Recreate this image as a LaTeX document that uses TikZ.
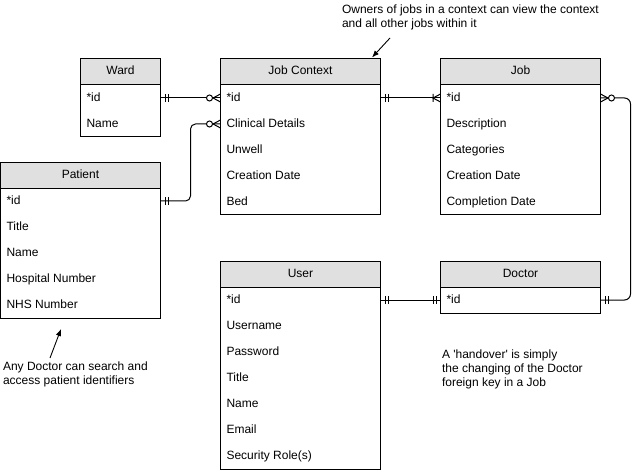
\documentclass[tikz,border=0pt]{standalone}
\usepackage{fontspec}
\setmainfont{Liberation Sans}
\usetikzlibrary{arrows.meta,calc}
\definecolor{hdrgray}{RGB}{224,224,224}
\begin{document}
\begin{tikzpicture}[x=1pt,y=-1pt,
  every node/.style={font=\fontsize{12}{14}\selectfont, inner sep=0pt, outer sep=0pt},
  hdr/.style={draw, fill=hdrgray, anchor=north west, minimum height=26pt, text height=8.6pt, text depth=2.5pt, line width=1pt},
  body/.style={draw, fill=white, anchor=north west, line width=1pt},
  row/.style={anchor=west, text height=8.6pt, text depth=2.5pt},
  conn/.style={line width=1pt},
  note/.style={align=left, anchor=west},
  notearrow/.style={line width=0.9pt, -{Latex[length=7pt,width=5.5pt]}},
  mone/.pic={\draw[line width=1pt] (4.5pt,-4pt) -- (4.5pt,4pt) (7.5pt,-4pt) -- (7.5pt,4pt);},
  zmany/.pic={\draw[line width=1pt] (0pt,-4pt) -- (7.5pt,0pt) -- (0pt,4pt);
              \draw[line width=1pt, fill=white] (11pt,0pt) circle (3pt);},
  omany/.pic={\draw[line width=1pt] (0pt,-4pt) -- (7.5pt,0pt) -- (0pt,4pt) (7.5pt,-4pt) -- (7.5pt,4pt);}
]
\useasboundingbox[fill=white] (0,0) rectangle (640,473);

% Ward
\node[body, minimum width=80pt, minimum height=52pt] (wardB) at (80.5,84.5) {};
\node[hdr, minimum width=80pt] (wardH) at (80.5,58.5) {Ward};
\node[row] (ward1) at (86.5,98) {*id};
\node[row] (ward2) at (86.5,124) {Name};

% Job Context
\node[body, minimum width=160pt, minimum height=130pt] (jcB) at (220.5,84.5) {};
\node[hdr, minimum width=160pt] (jcH) at (220.5,58.5) {Job Context};
\node[row] (jc1) at (226.5,98) {*id};
\node[row] (jc2) at (226.5,124) {Clinical Details};
\node[row] (jc3) at (226.5,150) {Unwell};
\node[row] (jc4) at (226.5,176) {Creation Date};
\node[row] (jc5) at (226.5,202) {Bed};

% Job
\node[body, minimum width=160pt, minimum height=130pt] (jobB) at (440.5,84.5) {};
\node[hdr, minimum width=160pt] (jobH) at (440.5,58.5) {Job};
\node[row] (job1) at (446.5,98) {*id};
\node[row] (job2) at (446.5,124) {Description};
\node[row] (job3) at (446.5,150) {Categories};
\node[row] (job4) at (446.5,176) {Creation Date};
\node[row] (job5) at (446.5,202) {Completion Date};

% Patient
\node[body, minimum width=160pt, minimum height=130pt] (patB) at (0.5,188.5) {};
\node[hdr, minimum width=160pt] (patH) at (0.5,162.5) {Patient};
\node[row] (pat1) at (6.5,201) {*id};
\node[row] (pat2) at (6.5,227) {Title};
\node[row] (pat3) at (6.5,253) {Name};
\node[row] (pat4) at (6.5,279) {Hospital Number};
\node[row] (pat5) at (6.5,305) {NHS Number};

% User
\node[body, minimum width=160pt, minimum height=182pt] (userB) at (220.5,287.5) {};
\node[hdr, minimum width=160pt] (userH) at (220.5,261.5) {User};
\node[row] (user1) at (226.5,300) {*id};
\node[row] (user2) at (226.5,326) {Username};
\node[row] (user3) at (226.5,352) {Password};
\node[row] (user4) at (226.5,378) {Title};
\node[row] (user5) at (226.5,404) {Name};
\node[row] (user6) at (226.5,430) {Email};
\node[row] (user7) at (226.5,456) {Security Role(s)};

% Doctor
\node[body, minimum width=160pt, minimum height=26pt] (docB) at (440.5,287.5) {};
\node[hdr, minimum width=160pt] (docH) at (440.5,261.5) {Doctor};
\node[row] (doc1) at (446.5,300) {*id};

% Connectors
\draw[conn] (wardB.east |- ward1) -- (jcB.west |- jc1);
\draw[conn, rounded corners=5pt] (patB.east |- pat1) -| ($(patB.east |- pat1)!0.5!(jcB.west |- jc2)$) |- (jcB.west |- jc2);
\draw[conn] (jcB.east |- jc1) -- (jobB.west |- job1);
\draw[conn, rounded corners=6pt] (jobB.east |- job1) -- ++(30,0) |- (docB.east |- doc1);
\draw[conn] (userB.east |- user1) -- (docB.west |- doc1);

% Markers
\pic at (wardB.east |- ward1) {mone};
\pic[rotate=180] at (jcB.west |- jc1) {zmany};
\pic at (patB.east |- pat1) {mone};
\pic[rotate=180] at (jcB.west |- jc2) {zmany};
\pic at (jcB.east |- jc1) {mone};
\pic[rotate=180] at (jobB.west |- job1) {omany};
\pic at (jobB.east |- job1) {zmany};
\pic at (docB.east |- doc1) {mone};
\pic at (userB.east |- user1) {mone};
\pic[rotate=180] at (docB.west |- doc1) {mone};

% Notes
\node[note] (n1) at (342,17) {Owners of jobs in a context can view the context\\and all other jobs within it};
\coordinate (a1s) at (390,38);
\coordinate (a1e) at (372,57.5);
\draw[notearrow] (a1s) -- (a1e);

\node[note] (n2) at (3,374.5) {Any Doctor can search and\\access patient identifiers};
\coordinate (a2s) at (50,358);
\coordinate (a2e) at (61,329);
\draw[notearrow] (a2s) -- (a2e);

\node[note] (n3) at (442,369) {A \textquotesingle handover\textquotesingle\ is simply\\the changing of the Doctor\\foreign key in a Job};
\end{tikzpicture}
\end{document}
